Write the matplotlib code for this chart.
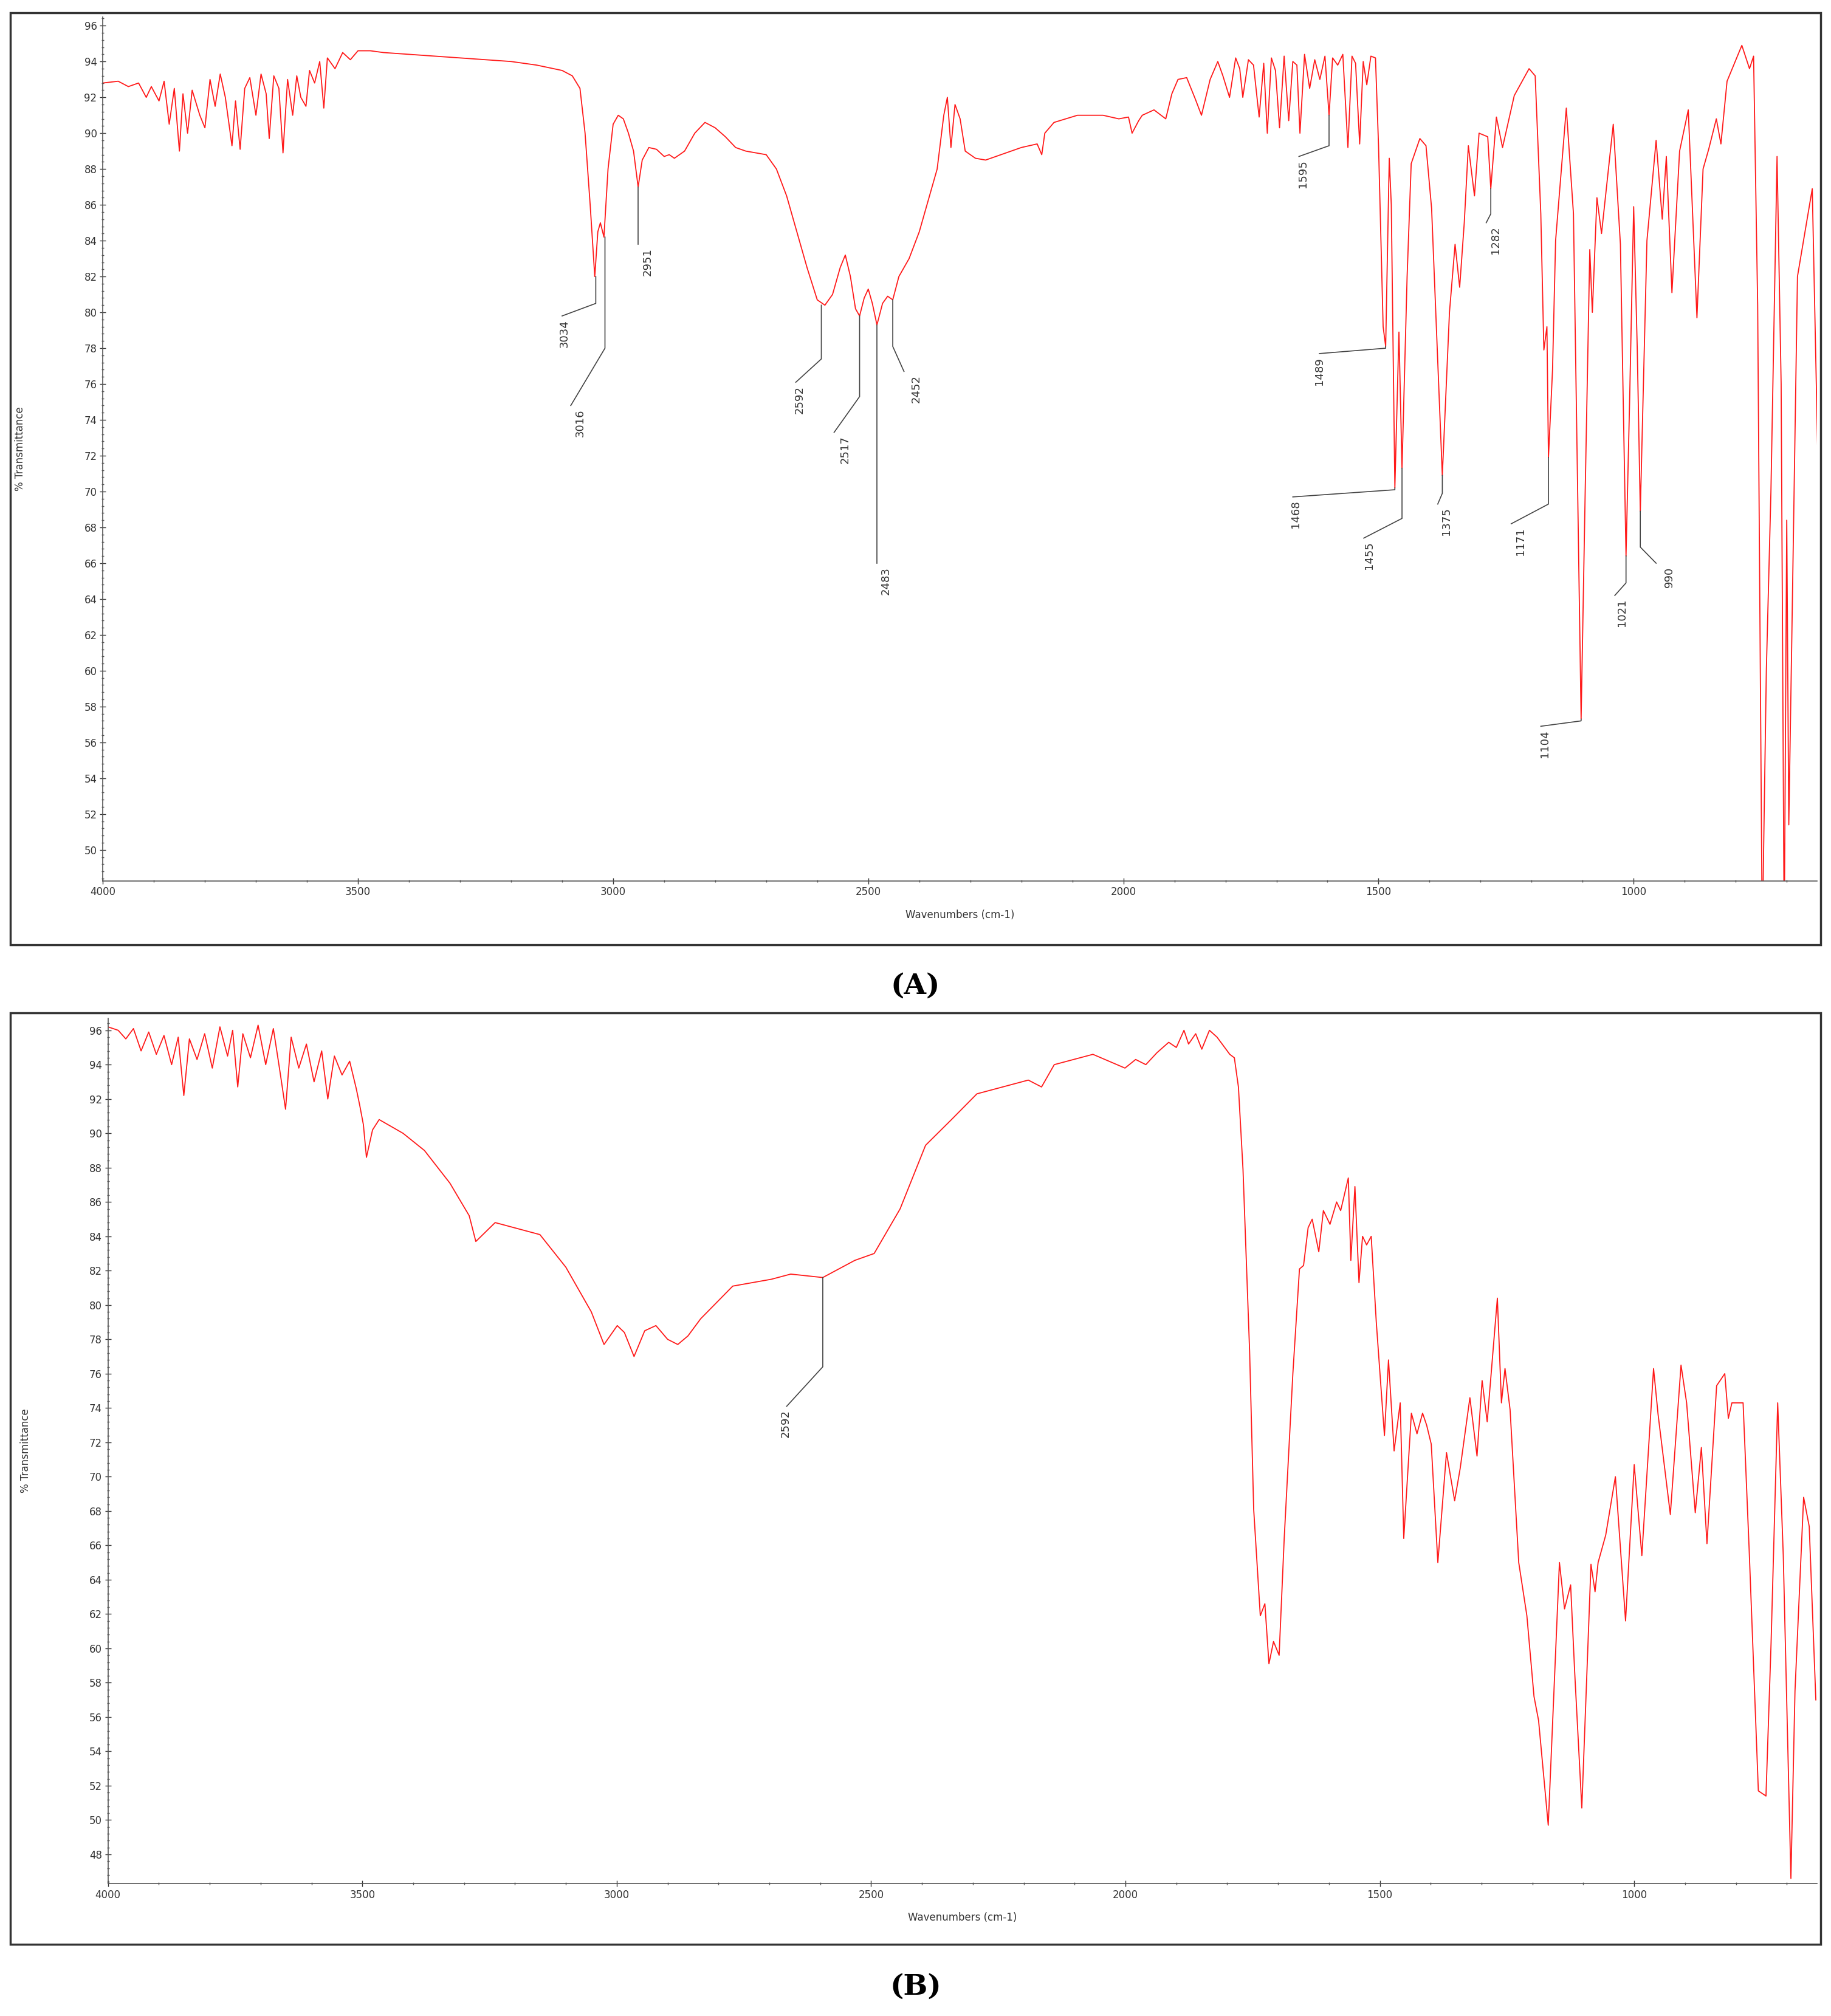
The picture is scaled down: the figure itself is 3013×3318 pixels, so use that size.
import matplotlib
matplotlib.use("Agg")
import matplotlib.pyplot as plt
from matplotlib.patches import Rectangle
from matplotlib.ticker import MultipleLocator

# ---------------- Spectrum A ----------------
wn_a = [4000,3970,3950,3930,3915,3905,3890,3880,3870,3860,3850,3843,3834,3825,3810,3800,3790,3780,3770,3760,
        3747,3740,3731,3722,3712,3700,3690,3680,3674,3665,3655,3647,3638,3628,3620,3612,3602,3595,3585,3575,
        3567,3560,3545,3530,3515,3500,3476,3450,3400,3300,3250,3200,3150,3100,3080,3065,3055,3045,3036,3030,
        3025,3018,3010,3000,2990,2980,2970,2960,2951,2943,2930,2915,2900,2890,2880,2860,2840,2820,2800,2780,
        2760,2740,2720,2700,2680,2660,2640,2620,2600,2585,2570,2555,2545,2535,2525,2517,2508,2500,2492,2483,
        2472,2462,2452,2440,2420,2400,2380,2365,2352,2345,2338,2330,2320,2310,2290,2270,2240,2200,2169,2160,
        2154,2136,2090,2040,2009,1990,1983,1970,1963,1940,1917,1905,1893,1876,1859,1847,1830,1815,1805,1792,
        1780,1772,1766,1755,1745,1734,1725,1718,1710,1702,1694,1685,1676,1668,1660,1654,1645,1635,1625,1615,
        1605,1597,1590,1580,1570,1560,1552,1545,1537,1530,1523,1515,1506,1500,1491,1486,1479,1475,1468,1460,
        1454,1444,1436,1419,1407,1396,1375,1361,1350,1341,1332,1324,1312,1303,1286,1280,1269,1257,1234,1205,
        1193,1182,1176,1170,1167,1159,1153,1132,1118,1103,1095,1086,1081,1072,1063,1040,1026,1015,1008,1000,
        993,987,974,956,944,936,925,910,893,876,864,853,838,829,817,788,773,765,757,748,
        740,731,719,711,705,700,696,690,679,650,638]
t_a = [92.8,92.9,92.6,92.8,92.0,92.6,91.8,92.9,90.5,92.5,89.0,92.2,90.0,92.4,91.0,90.3,93.0,91.5,93.3,92.0,
       89.3,91.8,89.1,92.5,93.1,91.0,93.3,92.2,89.7,93.2,92.5,88.9,93.0,91.0,93.2,92.0,91.5,93.5,92.8,94.0,
       91.4,94.2,93.6,94.5,94.1,94.6,94.6,94.5,94.4,94.2,94.1,94.0,93.8,93.5,93.2,92.5,90.0,86.0,82.0,84.5,
       85.0,84.2,88.0,90.5,91.0,90.8,90.0,89.0,87.0,88.5,89.2,89.1,88.7,88.8,88.6,89.0,90.0,90.6,90.3,89.8,
       89.2,89.0,88.9,88.8,88.0,86.5,84.5,82.5,80.7,80.4,81.0,82.5,83.2,82.0,80.2,79.8,80.8,81.3,80.5,79.3,
       80.5,80.9,80.7,82.0,83.0,84.5,86.5,88.0,91.0,92.0,89.2,91.6,90.8,89.0,88.6,88.5,88.8,89.2,89.4,88.8,
       90.0,90.6,91.0,91.0,90.8,90.9,90.0,90.7,91.0,91.3,90.8,92.2,93.0,93.1,91.9,91.0,93.0,94.0,93.2,92.0,
       94.2,93.6,92.0,94.1,93.8,90.9,93.9,90.0,94.2,93.5,90.3,94.3,90.7,94.0,93.8,90.0,94.4,92.5,94.1,93.0,
       94.3,91.0,94.2,93.8,94.4,89.2,94.3,93.9,89.4,94.0,92.7,94.3,94.2,89.3,79.2,78.1,88.6,86.0,70.2,78.9,
       71.3,82.0,88.3,89.7,89.3,85.8,70.9,80.0,83.8,81.4,85.0,89.3,86.5,90.0,89.8,86.9,90.9,89.2,92.1,93.6,
       93.2,85.5,77.9,79.2,71.9,76.8,84.0,91.4,85.5,57.3,70.0,83.5,80.0,86.4,84.4,90.5,83.8,66.4,75.0,85.9,
       78.0,68.9,84.0,89.6,85.2,88.7,81.1,89.0,91.3,79.7,88.0,89.1,90.8,89.4,92.9,94.9,93.6,94.3,80.4,45.0,
       60.0,70.0,88.7,76.0,45.0,68.4,51.4,62.0,82.0,86.9,70.4]

lab_a = ["3034","3016","2951","2592","2517","2483","2452","1595","1489","1468","1455","1375","1282","1171","1104","1021","990"]
pk_wn_a = [3034,3016,2951,2592,2517,2483,2452,1597,1486,1468,1454,1375,1280,1167,1103,1015,987]
pk_t_a = [82.0,84.2,87.0,80.4,79.8,79.3,80.7,91.0,78.1,70.2,71.3,70.9,86.9,71.9,57.3,66.4,68.9]
knee_t_a = [80.5,78.0,83.8,77.4,75.3,66.0,78.1,89.3,78.0,70.1,68.5,69.9,85.5,69.3,57.2,64.9,66.9]
end_wn_a = [3100,3083,2951,2642,2567,2483,2430,1656,1616,1668,1529,1384,1289,1240,1182,1037,956]
end_t_a = [79.8,74.8,83.8,76.1,73.3,66.0,76.7,88.7,77.7,69.7,67.4,69.3,85.0,68.2,56.9,64.2,66.0]
txt_wn_a = [3095,3065,2932,2635,2545,2466,2406,1648,1616,1662,1518,1367,1271,1222,1174,1023,930]

# ---------------- Spectrum B ----------------
wn_b = [4000,3980,3965,3950,3935,3920,3905,3890,3875,3862,3851,3840,3825,3810,3795,3780,3765,3755,3745,3735,
        3720,3705,3690,3675,3662,3651,3640,3625,3610,3595,3580,3568,3555,3540,3525,3512,3505,3498,3492,3480,
        3467,3420,3378,3328,3290,3277,3239,3151,3100,3050,3025,2999,2985,2966,2945,2923,2900,2880,2860,2835,
        2772,2696,2658,2595,2532,2494,2443,2393,2342,2292,2191,2165,2140,2064,2001,1980,1960,1938,1915,1900,
        1885,1876,1862,1850,1835,1820,1805,1795,1786,1778,1769,1756,1748,1735,1726,1718,1709,1698,1688,1671,
        1658,1650,1641,1633,1620,1611,1598,1585,1577,1562,1557,1549,1541,1534,1526,1517,1507,1491,1483,1472,
        1460,1453,1438,1427,1416,1408,1399,1386,1369,1353,1342,1323,1309,1299,1289,1269,1261,1254,1244,1227,
        1211,1197,1188,1169,1147,1137,1125,1117,1103,1085,1077,1071,1056,1037,1017,1000,985,962,953,929,
        908,897,880,868,857,838,822,815,808,786,774,756,741,731,718,707,692,684,667,656,643]
t_b = [96.2,96.0,95.5,96.1,94.8,95.9,94.6,95.7,94.0,95.6,92.2,95.5,94.3,95.8,93.8,96.2,94.5,96.0,92.7,95.8,
       94.4,96.3,94.0,96.1,93.6,91.4,95.6,93.8,95.2,93.0,94.8,92.0,94.5,93.4,94.2,92.6,91.6,90.5,88.6,90.2,
       90.8,90.0,89.0,87.1,85.2,83.7,84.8,84.1,82.2,79.6,77.7,78.8,78.4,77.0,78.5,78.8,78.0,77.7,78.2,79.2,
       81.1,81.5,81.8,81.6,82.6,83.0,85.6,89.3,90.8,92.3,93.1,92.7,94.0,94.6,93.8,94.3,94.0,94.7,95.3,95.0,
       96.0,95.2,95.8,94.9,96.0,95.6,95.0,94.6,94.4,92.7,87.9,77.3,68.1,61.9,62.6,59.1,60.4,59.6,66.4,76.0,
       82.1,82.3,84.5,85.0,83.1,85.5,84.7,86.0,85.5,87.4,82.6,86.9,81.3,84.0,83.5,84.0,79.0,72.4,76.8,71.5,
       74.3,66.4,73.7,72.5,73.7,73.0,71.9,65.0,71.4,68.6,70.5,74.6,71.2,75.6,73.2,80.4,74.3,76.3,73.9,65.0,
       61.9,57.2,55.8,49.7,65.0,62.3,63.7,58.6,50.7,64.9,63.3,65.0,66.6,70.0,61.6,70.7,65.4,76.3,73.6,67.8,
       76.5,74.3,67.9,71.7,66.1,75.3,76.0,73.4,74.3,74.3,65.7,51.7,51.4,60.3,74.3,65.4,46.6,57.5,68.8,67.1,57.0]

lab_b = ["2592"]
pk_wn_b = [2595]
pk_t_b = [81.6]
knee_t_b = [76.4]
end_wn_b = [2666]
end_t_b = [74.1]
txt_wn_b = [2668]

W, H = 1424, 1568
fig = plt.figure(figsize=(30.13, 33.18), dpi=100)
plt.rcParams['font.family'] = ['DejaVu Sans']

def fr(x0, y0, x1, y1):
    return [x0 / W, 1 - y1 / H, (x1 - x0) / W, (y1 - y0) / H]

def panel(rect, wn, t, ylim, yticks, labs, pkw, pkt, kt, ew, et, tw):
    ax = fig.add_axes(rect)
    ax.plot(wn, t, color='#ff1a1a', lw=1.3)
    ax.set_xlim(4000, 641)
    ax.set_ylim(*ylim)
    ax.set_xticks([4000, 3500, 3000, 2500, 2000, 1500, 1000])
    ax.xaxis.set_minor_locator(MultipleLocator(100))
    ax.set_yticks(yticks)
    ax.yaxis.set_minor_locator(MultipleLocator(0.4))
    ax.tick_params(axis='both', which='major', labelsize=12, colors='#333333', direction='inout', length=7, width=1)
    ax.tick_params(axis='both', which='minor', direction='inout', length=3, width=1, colors='#555555')
    for s in ['top', 'right']:
        ax.spines[s].set_visible(False)
    for s in ['left', 'bottom']:
        ax.spines[s].set_color('#555555')
        ax.spines[s].set_linewidth(1.2)
    ax.set_xlabel('Wavenumbers (cm-1)', fontsize=12, color='#333333', labelpad=14)
    ax.set_ylabel('% Transmittance', fontsize=12, color='#333333')
    ax.yaxis.set_label_coords(-0.045, 0.5)
    for i in range(len(labs)):
        ax.plot([pkw[i], pkw[i], ew[i]], [pkt[i], kt[i], et[i]], color='#444444', lw=1.2)
        ax.text(tw[i], et[i] - 0.2, labs[i], rotation=90, ha='center', va='top', fontsize=13, color='#333333')
    return ax

panel(fr(80, 13, 1413, 685), wn_a, t_a, (48.28, 96.5), list(range(50, 97, 2)),
      lab_a, pk_wn_a, pk_t_a, knee_t_a, end_wn_a, end_t_a, txt_wn_a)
panel(fr(84, 792, 1413, 1465), wn_b, t_b, (46.3, 96.7), list(range(48, 97, 2)),
      lab_b, pk_wn_b, pk_t_b, knee_t_b, end_wn_b, end_t_b, txt_wn_b)

for (y0, y1) in [(10, 735), (788, 1512)]:
    fig.patches.append(Rectangle((8 / W, 1 - y1 / H), 1408 / W, (y1 - y0) / H, transform=fig.transFigure,
                                 fill=False, edgecolor='#333333', lw=2.5))

fig.text(712 / W, 1 - 767 / H, '(A)', ha='center', va='center', fontsize=34, fontweight='bold', family='DejaVu Serif')
fig.text(712 / W, 1 - 1545 / H, '(B)', ha='center', va='center', fontsize=34, fontweight='bold', family='DejaVu Serif')

fig.savefig('out.png', dpi=100)
